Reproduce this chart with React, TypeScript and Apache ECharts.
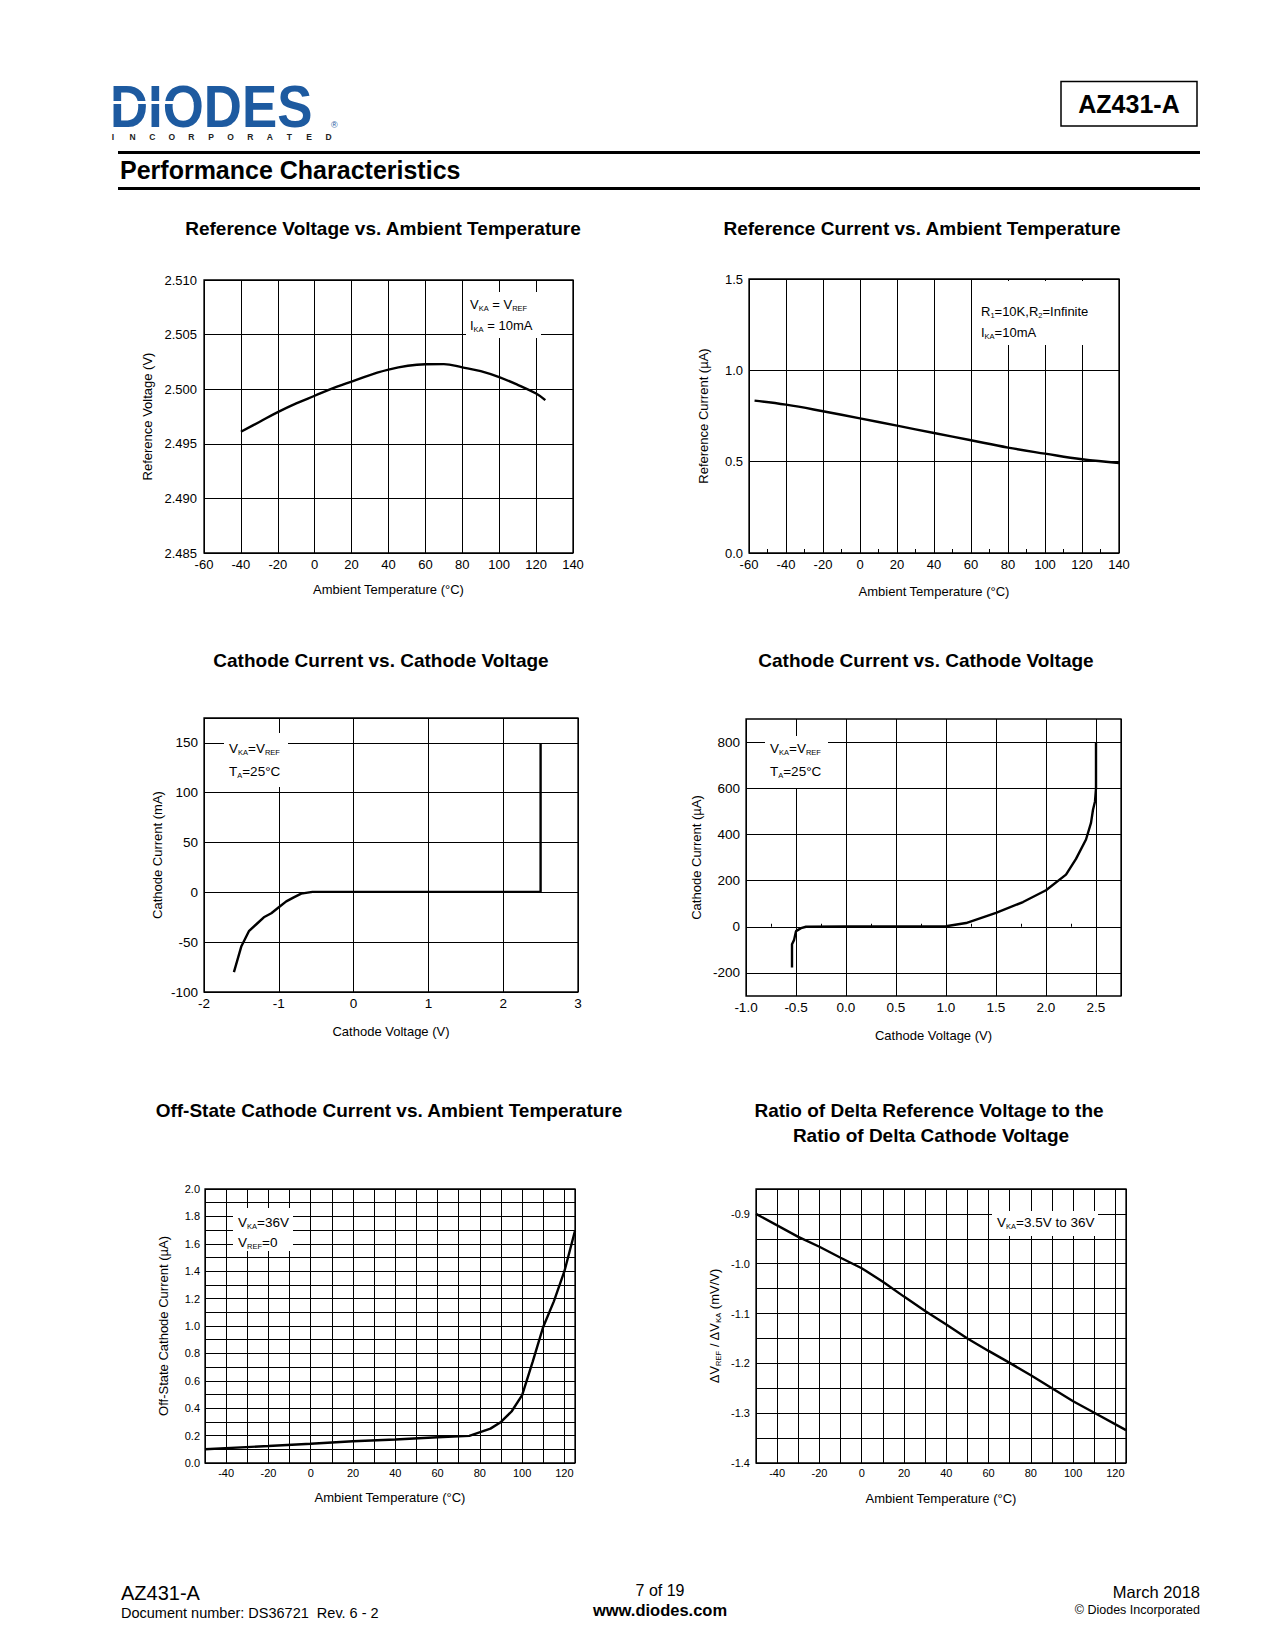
import React, { useEffect, useRef } from "react";
import * as echarts from "echarts";

const FONT = "'Liberation Sans', Arial, Helvetica, sans-serif";
const C = "#000";

// ---- Chart 1: Reference Voltage vs. Ambient Temperature
const refVTemp = [-40, -30, -20, -10, 0, 10, 20, 40, 60, 70, 80, 90, 100, 110, 120, 125];
const refVVolt = [2.4961, 2.497, 2.4979, 2.4987, 2.4994, 2.5001, 2.5007, 2.5018, 2.50228, 2.5023, 2.502, 2.50165, 2.5011, 2.5004, 2.4996, 2.499];

// ---- Chart 2: Reference Current vs. Ambient Temperature
const refITemp = [-57, -40, -20, 0, 20, 40, 60, 80, 100, 120, 140];
const refICur = [0.834, 0.812, 0.776, 0.737, 0.697, 0.657, 0.617, 0.577, 0.544, 0.513, 0.493];

// ---- Chart 3: Cathode Current (mA) vs. Cathode Voltage
const ikmVolt = [-1.6, -1.5, -1.4, -1.3, -1.2, -1.1, -1.0, -0.9, -0.8, -0.7, -0.55, 2.5, 2.5];
const ikmCur = [-80, -54, -39, -32, -25, -21, -15, -9, -5, -1.3, 0.5, 0.5, 150];

// ---- Chart 4: Cathode Current (uA) vs. Cathode Voltage
const ikuVolt = [-0.54, -0.54, -0.52, -0.5, -0.45, -0.4, 0, 0.5, 1.0, 1.2, 1.5, 1.77, 2.0, 2.2, 2.3, 2.4, 2.45, 2.47, 2.49, 2.5, 2.5];
const ikuCur = [-177, -76, -58, -19, -6, 0, 1, 1, 2, 16, 60, 107, 158, 226, 294, 378, 450, 507, 543, 600, 800];

// ---- Chart 5: Off-State Cathode Current vs. Ambient Temperature
const offTemp = [-50, -20, 0, 20, 40, 60, 75, 85, 90, 95, 100, 105, 110, 115, 120, 125];
const offCur = [0.1, 0.124, 0.141, 0.159, 0.171, 0.188, 0.198, 0.251, 0.3, 0.376, 0.495, 0.74, 0.995, 1.18, 1.4, 1.695];

// ---- Chart 6: Ratio of Delta Reference Voltage to the Ratio of Delta Cathode Voltage
const ratioTemp = [-50, -30, -20, -10, 0, 10, 20, 30, 40, 50, 60, 70, 80, 90, 100, 110, 125];
const ratioVal = [-0.9, -0.946, -0.966, -0.988, -1.009, -1.036, -1.066, -1.095, -1.122, -1.15, -1.175, -1.199, -1.224, -1.25, -1.276, -1.299, -1.334];

// ---- Texts
const chartTitles = [
  "Reference Voltage vs. Ambient Temperature",
  "Reference Current vs. Ambient Temperature",
  "Cathode Current vs. Cathode Voltage",
  "Cathode Current vs. Cathode Voltage",
  "Off-State Cathode Current vs. Ambient Temperature",
  "Ratio of Delta Reference Voltage to the",
  "Ratio of Delta Cathode Voltage",
];
const incLetters = ["I", "N", "C", "O", "R", "P", "O", "R", "A", "T", "E", "D"];

const pairs = (xs: number[], ys: number[]) => xs.map((x, i) => [x, ys[i]]);

const splitLine = { show: true, lineStyle: { color: C, width: 1 } };

function xAxis(gi: number, min: number, max: number, interval: number, name: string, fs: number, margin: number, gap: number, formatter: (v: number) => string, extra: any = {}) {
  return {
    gridIndex: gi, type: "value", min, max, interval,
    name, nameLocation: "middle", nameGap: gap,
    nameTextStyle: { fontSize: 13, color: C, fontFamily: FONT },
    axisLine: { show: false }, axisTick: { show: false },
    axisLabel: { color: C, fontSize: fs, fontFamily: FONT, margin, formatter, showMinLabel: true, showMaxLabel: true },
    splitLine, ...extra,
  };
}
function yAxis(gi: number, min: number, max: number, interval: number, name: any, fs: number, margin: number, gap: number, formatter: (v: number) => string, extra: any = {}) {
  return {
    gridIndex: gi, type: "value", min, max, interval,
    name, nameLocation: "middle", nameGap: gap,
    nameTextStyle: { fontSize: 13, color: C, fontFamily: FONT },
    axisLine: { show: false }, axisTick: { show: false },
    axisLabel: { color: C, fontSize: fs, fontFamily: FONT, margin, formatter, showMinLabel: true, showMaxLabel: true },
    splitLine, ...extra,
  };
}

const n = (s: string) => `{n|${s}}`;
const s = (t: string) => `{s|${t}}`;
function richText(x: number, y: number, text: string, fs: number) {
  return {
    type: "text", x, y, z: 60,
    style: {
      text, textAlign: "left", textVerticalAlign: "middle",
      rich: {
        n: { fontSize: fs, fontFamily: FONT, lineHeight: 16, fill: C },
        s: { fontSize: 7.5, fontFamily: FONT, lineHeight: 8, verticalAlign: "bottom", fill: C },
      },
    },
  };
}
function whiteBox(x: number, y: number, w: number, h: number) {
  return { type: "rect", z: 55, shape: { x, y, width: w, height: h }, style: { fill: "#fff" } };
}
function plain(x: number, y: number, text: string, size: number, align: string, bold = false, fill = C) {
  return {
    type: "text", x, y, z: 60,
    style: { text, font: `${bold ? "bold " : ""}${size}px ${FONT}`, fill, textAlign: align, textVerticalAlign: "middle" },
  };
}
function rule(x: number, y: number, w: number, h: number) {
  return { type: "rect", shape: { x, y, width: w, height: h }, style: { fill: C } };
}

function buildOption() {
  const grids = [
    { left: 204, top: 280, width: 369, height: 273 },
    { left: 749, top: 279, width: 370, height: 274 },
    { left: 204, top: 718, width: 374, height: 274 },
    { left: 746, top: 719, width: 375, height: 277 },
    { left: 205, top: 1189, width: 370, height: 274 },
    { left: 756, top: 1189, width: 370, height: 274 },
  ].map((g) => ({ ...g, show: true, borderColor: C, borderWidth: 1.3, containLabel: false }));

  const tempName = "Ambient Temperature (°C)";
  const xAxes = [
    xAxis(0, -60, 140, 20, tempName, 13, 5, 30, (v) => String(v)),
    xAxis(1, -60, 140, 20, tempName, 13, 5, 32, (v) => String(v), {
      axisTick: { show: false, inside: true },
      minorTick: { show: true, splitNumber: 2, length: 4, lineStyle: { color: C, width: 1 } },
    }),
    xAxis(2, -2, 3, 1, "Cathode Voltage (V)", 13.5, 4, 33, (v) => String(v)),
    xAxis(3, -1, 2.75, 0.5, "Cathode Voltage (V)", 13.5, 4, 33, (v) => (v > 2.6 ? "" : v.toFixed(1)), {
      axisTick: { show: false, inside: true },
      minorTick: { show: true, splitNumber: 2, length: 3, lineStyle: { color: C, width: 1 } },
    }),
    xAxis(4, -50, 125, 10, tempName, 11, 4, 28, (v) => (v % 20 === 0 && v < 125 ? String(v) : "")),
    xAxis(5, -50, 125, 10, tempName, 11, 4, 29, (v) => (v % 20 === 0 && v < 125 ? String(v) : "")),
  ];

  const yAxes = [
    yAxis(0, 2.485, 2.51, 0.005, "Reference Voltage (V)", 13, 7, 50, (v) => v.toFixed(3)),
    yAxis(1, 0, 1.5, 0.5, "Reference Current (µA)", 13, 6, 39, (v) => v.toFixed(1)),
    yAxis(2, -100, 175, 50, "Cathode Current (mA)", 13.5, 6, 40, (v) => (v > 160 ? "" : String(v))),
    yAxis(3, -300, 900, 100, "Cathode Current (µA)", 13.5, 6, 43,
      (v) => (Math.round(v) % 200 === 0 && v < 850 ? String(Math.round(v)) : ""),
      { splitLine: { show: true, lineStyle: { color: ["rgba(0,0,0,0)", C], width: 1 } } }),
    yAxis(4, 0, 2, 0.1, "Off-State Cathode Current (µA)", 11, 5, 35,
      (v) => (Math.round(v * 10) % 2 === 0 ? v.toFixed(1) : "")),
    yAxis(5, -1.4, -0.85, 0.05,
      `${n("ΔV")}{s|REF}${n(" / ΔV")}{s|KA}${n(" (mV/V)")}`, 11, 6, 34,
      (v) => (Math.round(v * 100) % 10 === 0 ? v.toFixed(1) : ""),
      {
        nameTextStyle: {
          fontSize: 13, color: C, fontFamily: FONT,
          rich: {
            n: { fontSize: 13, color: C, fontFamily: FONT, lineHeight: 16 },
            s: { fontSize: 7.5, color: C, fontFamily: FONT, lineHeight: 8, verticalAlign: "bottom" },
          },
        },
      }),
  ];

  const lineStyle = { color: C, width: 2.4 };
  const series = [
    { data: pairs(refVTemp, refVVolt), smooth: 0.4 },
    { data: pairs(refITemp, refICur), smooth: 0.4 },
    { data: pairs(ikmVolt, ikmCur), smooth: false },
    { data: pairs(ikuVolt, ikuCur), smooth: false },
    { data: pairs(offTemp, offCur), smooth: false },
    { data: pairs(ratioTemp, ratioVal), smooth: false },
  ].map((sr, i) => ({
    type: "line", xAxisIndex: i, yAxisIndex: i, data: sr.data, smooth: sr.smooth,
    symbol: "none", lineStyle, silent: true, z: 5,
  }));

  const graphic: any[] = [
    // Header logo
    { type: "text", x: 110, y: 106, scaleX: 0.88, z: 10,
      style: { text: "DIODES", font: `bold 60px ${FONT}`, fill: "#1d5aa0", textAlign: "left", textVerticalAlign: "middle" } },
    { type: "rect", z: 11, shape: { x: 111, y: 101, width: 74, height: 3 }, style: { fill: "#fff" } },
    { type: "polygon", z: 11, shape: { points: [[181, 97], [194, 102.5], [181, 108]] }, style: { fill: "#fff" } },
    { type: "text", x: 331, y: 125, z: 10, style: { text: "®", font: `9px ${FONT}`, fill: "#1d5aa0", textAlign: "left", textVerticalAlign: "middle" } },
    ...incLetters.map((l, i) => plain(113 + i * 19.6, 137, l, 8.5, "center", true, "#222")),
    // Part number box
    { type: "rect", shape: { x: 1061, y: 81.5, width: 136, height: 44.5 }, style: { fill: "#fff", stroke: C, lineWidth: 1.5 } },
    plain(1129, 104, "AZ431-A", 25, "center", true),
    // Rules & section title
    rule(118, 151, 1082, 3),
    plain(120, 170, "Performance Characteristics", 25, "left", true),
    rule(118, 187, 1082, 3),
    // Chart titles
    plain(383, 228, chartTitles[0], 19, "center", true),
    plain(922, 228, chartTitles[1], 19, "center", true),
    plain(381, 660, chartTitles[2], 19, "center", true),
    plain(926, 660, chartTitles[3], 19, "center", true),
    plain(389, 1110, chartTitles[4], 19, "center", true),
    plain(929, 1110, chartTitles[5], 19, "center", true),
    plain(931, 1135, chartTitles[6], 19, "center", true),
    // Legends
    whiteBox(466, 292, 75, 46),
    richText(470, 304, `${n("V")}${s("KA")}${n(" = V")}${s("REF")}`, 13),
    richText(470, 325, `${n("I")}${s("KA")}${n(" = 10mA")}`, 13),
    whiteBox(976, 281, 120, 64),
    richText(981, 311, `${n("R")}${s("1")}${n("=10K,R")}${s("2")}${n("=Infinite")}`, 13),
    richText(981, 332, `${n("I")}${s("KA")}${n("=10mA")}`, 13),
    whiteBox(224, 733, 64, 54),
    richText(229, 748, `${n("V")}${s("KA")}${n("=V")}${s("REF")}`, 13.5),
    richText(229, 771, `${n("T")}${s("A")}${n("=25°C")}`, 13.5),
    whiteBox(765, 736, 63, 52),
    richText(770, 748, `${n("V")}${s("KA")}${n("=V")}${s("REF")}`, 13.5),
    richText(770, 771, `${n("T")}${s("A")}${n("=25°C")}`, 13.5),
    whiteBox(233, 1208, 60, 43),
    richText(238, 1222, `${n("V")}${s("KA")}${n("=36V")}`, 13.5),
    richText(238, 1242, `${n("V")}${s("REF")}${n("=0")}`, 13.5),
    whiteBox(992, 1211, 106, 25),
    richText(997, 1222, `${n("V")}${s("KA")}${n("=3.5V to 36V")}`, 13.5),
    // Footer
    plain(121, 1593, "AZ431-A", 20, "left"),
    plain(121, 1613, "Document number: DS36721  Rev. 6 - 2", 14.5, "left"),
    plain(660, 1590, "7 of 19", 16, "center"),
    plain(660, 1610, "www.diodes.com", 16.5, "center", true),
    plain(1200, 1592, "March 2018", 16.5, "right"),
    plain(1200, 1610, "© Diodes Incorporated", 12.5, "right"),
  ];

  return {
    animation: false,
    backgroundColor: "#fff",
    grid: grids,
    xAxis: xAxes,
    yAxis: yAxes,
    series,
    graphic,
  };
}

export default function App() {
  const ref = useRef<HTMLDivElement>(null);
  useEffect(() => {
    if (!ref.current) return;
    const chart = echarts.init(ref.current, undefined, { renderer: "svg" });
    chart.setOption(buildOption() as any);
    return () => chart.dispose();
  }, []);
  return (
    <div
      ref={ref}
      style={{ position: "absolute", left: 0, top: 0, width: 1275, height: 1650, background: "#fff" }}
    />
  );
}
